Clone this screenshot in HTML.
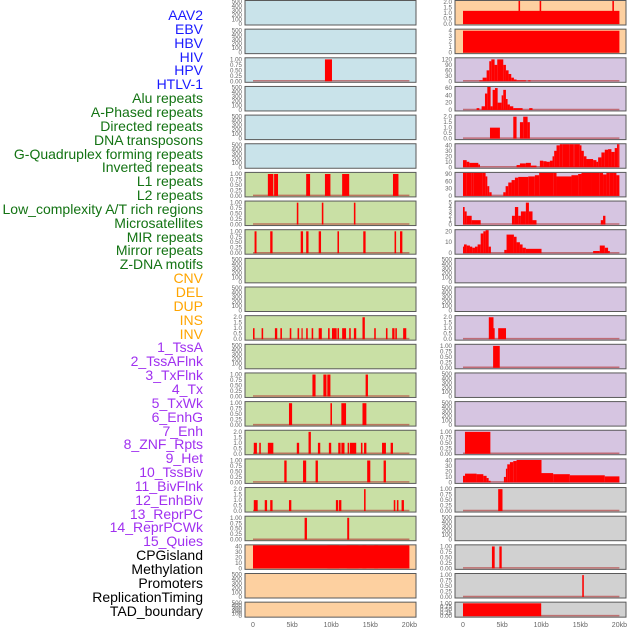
<!DOCTYPE html>
<html><head><meta charset="utf-8">
<style>
html,body{margin:0;padding:0;background:#fff;width:630px;height:630px;overflow:hidden}
#labels{position:absolute;left:0;top:0;width:203px}
.lab{position:absolute;right:0;font-family:"Liberation Sans",sans-serif;font-size:14px;line-height:14px;white-space:nowrap}
svg{position:absolute;left:0;top:0}
</style></head>
<body>
<div id="labels"></div>
<svg id="chart" width="630" height="630"></svg>
<script>
const trackLabels = ["AAV2","EBV","HBV","HIV","HPV","HTLV-1","Alu repeats","A-Phased repeats","Directed repeats","DNA transposons","G-Quadruplex forming repeats","Inverted repeats","L1 repeats","L2 repeats","Low_complexity A/T rich regions","Microsatellites","MIR repeats","Mirror repeats","Z-DNA motifs","CNV","DEL","DUP","INS","INV","1_TssA","2_TssAFlnk","3_TxFlnk","4_Tx","5_TxWk","6_EnhG","7_Enh","8_ZNF_Rpts","9_Het","10_TssBiv","11_BivFlnk","12_EnhBiv","13_ReprPC","14_ReprPCWk","15_Quies","CPGisland","Methylation","Promoters","ReplicationTiming","TAD_boundary"];
const labelGroups = [6,13,5,15,5];
const groupColors = ["#1a1aff","#137313","#ffa500","#a030f0","#000000"];
const xTickLabels = ["0","5kb","10kb","15kb","20kb"];
const xTickValues = [0,5,10,15,20];
const emptyTicks = [0,100,200,300,400,500];
const t1 = [0,0.25,0.5,0.75,1.0];
const t2 = [0,0.5,1.0,1.5,2.0];
// left column bar data [startKb,endKb,value]
const L2 = [[9.2,10.1,1]];
const L6 = [[1.9,2.6,1],[2.7,3.2,1],[6.8,7.3,1],[9.2,9.9,1],[11.4,12.3,1],[17.9,18.6,1]];
const L7 = [[5.6,5.8,1],[8.8,9.0,1],[12.9,13.1,1]];
const L8 = [[0.2,0.45,1],[2.2,2.5,1],[6.1,6.4,1],[6.8,7.1,1],[8.4,8.7,1],[10.8,11.0,1],[14.1,14.4,1],[18.1,18.3,1],[18.8,19.1,1]];
const L11 = [[0,0.2,1],[1.1,1.3,1],[2.8,3.1,1],[3.5,3.7,1],[4.7,4.9,1],[5.7,5.9,1],[6.2,6.35,1],[6.8,7.0,1],[7.5,7.7,1],[8.4,8.8,1],[9.6,9.8,1],[10.1,10.7,1],[10.8,11.0,1],[11.4,11.9,1],[12.3,12.5,1],[12.9,13.2,1],[14.0,14.3,2],[15.5,15.7,1],[17.0,17.2,1],[17.8,18.1,1],[18.2,18.4,1],[19.2,19.6,1]];
const L13 = [[7.6,8.0,1],[9.0,9.4,1],[9.5,9.9,1],[14.4,14.7,1]];
const L14 = [[4.6,5.0,1],[9.9,10.1,1],[11.3,11.9,1],[14.0,14.5,1]];
const L15 = [[0.1,0.5,1],[0.8,1.0,1],[1.9,2.6,1],[5.6,5.9,1],[7.1,7.4,2],[8.3,8.6,1],[9.7,10.0,1],[10.9,11.2,1],[11.3,11.7,1],[12.1,12.3,1],[12.4,13.2,1],[13.8,14.0,1],[14.2,14.5,1],[16.5,17.0,1],[17.6,17.9,1]];
const L16 = [[4.0,4.3,1],[6.4,6.8,1],[8.0,8.3,1],[14.6,15.0,1],[16.7,17.0,1]];
const L17 = [[0.1,0.6,1],[1.5,1.8,1],[2.2,2.5,1],[4.6,4.9,1],[10.6,10.9,1],[11.0,11.3,1],[14.2,14.4,2],[18.0,18.2,1],[18.4,18.6,1],[19.0,19.3,1]];
const L18 = [[6.6,6.9,1],[12.05,12.3,1]];
const L19 = [[0,20,44],[9.5,11.0,47],[12.0,13.5,46],[14.0,14.5,46],[15.5,16.0,46]];
// right column bar data
const R0 = [[0,20,1.2],[7.1,7.3,2.1],[9.8,10.0,2.1],[19.1,19.3,2.1]];
const R1 = [[0,20,4]];
const R2 = [[2.09,2.51,5],[2.51,3.02,20],[3.02,3.36,60],[3.36,3.62,110],[3.62,4.04,120],[4.04,4.38,90],[4.38,5.15,120],[5.15,5.49,90],[5.49,5.83,60],[5.83,6.17,40],[6.17,6.51,20],[6.51,6.85,10],[6.85,8.04,5],[8.34,8.64,5]];
const R3 = [[1.74,2.09,5],[2.38,2.81,10],[2.81,3.11,45],[3.11,3.53,65],[3.53,3.79,10],[3.79,4.09,55],[4.09,4.43,60],[4.43,4.94,20],[4.94,5.15,40],[5.15,5.49,55],[5.49,5.70,30],[5.70,6.0,15],[6.0,6.43,10],[6.43,7.62,5],[8.47,8.89,5]];
const R4 = [[3.45,4.72,1],[6.43,6.85,2],[7.28,7.70,1.5],[7.70,8.26,2],[8.26,8.55,1.5]];
const R5 = [[0,0.47,13],[0.47,0.81,10],[0.81,1.96,8],[1.96,2.17,5],[6.85,7.28,4],[7.28,8.04,7],[8.04,8.68,8],[8.68,9.40,3],[9.83,10.26,12],[10.26,10.68,11],[10.68,11.11,10],[11.11,11.45,12],[11.45,11.66,20],[11.66,11.96,30],[11.96,12.38,40],[12.38,12.68,45],[12.68,13.66,48],[13.66,14.09,47],[14.09,14.30,45],[14.30,14.94,48],[14.94,15.15,40],[15.15,15.45,30],[15.45,15.79,20],[15.79,16.64,15],[16.64,17.06,13],[17.06,17.28,10],[17.28,17.70,18],[17.70,18.13,27],[18.13,18.55,32],[18.55,18.98,33],[18.98,19.40,28],[19.40,19.70,35],[19.70,19.85,45],[19.85,20.0,50]];
const R6 = [[0,0.47,98],[0.47,1.11,100],[1.11,1.32,105],[1.32,2.51,108],[2.51,2.89,95],[2.89,3.11,80],[3.11,3.36,40],[3.36,3.66,15],[5.15,5.45,15],[5.45,5.79,40],[5.79,6.21,55],[6.21,6.64,65],[6.64,7.06,75],[7.06,8.34,78],[8.34,9.19,80],[9.19,9.74,85],[9.74,11.53,108],[11.53,11.96,100],[11.96,13.87,80],[13.87,14.72,85],[14.72,15.15,90],[15.15,16.43,105],[16.43,17.49,110],[17.49,17.91,95],[17.91,18.34,88],[18.34,18.77,95],[18.77,19.19,100],[19.19,19.62,95],[19.62,20,85]];
const R7 = [[0,0.21,4],[0.21,0.47,3],[0.47,1.11,2],[1.11,2.26,1],[6.26,6.64,2],[6.64,7.06,4],[7.06,7.40,2],[7.40,8.04,3],[8.04,8.43,5],[8.43,8.89,3],[8.89,9.40,1],[17.62,17.91,1],[17.91,18.21,2]];
const R8 = [[0,0.13,6],[0.13,0.47,8],[0.47,0.89,7],[0.89,1.19,6],[1.19,1.53,5],[1.53,1.87,6],[1.87,2.26,8],[2.26,2.6,18],[2.6,2.89,20],[2.89,3.28,28],[3.28,3.57,6],[5.28,5.57,3],[5.57,6.51,17],[6.51,6.85,15],[6.85,7.28,10],[7.28,7.62,8],[7.62,8.04,5],[8.04,10.04,4],[16.64,17.49,2],[17.49,18.13,7],[18.13,18.55,5],[18.55,18.77,2]];
const R11 = [[3.3,3.9,2],[3.9,4.05,1],[4.5,5.5,1]];
const R12 = [[3.85,4.7,1]];
const R15 = [[0.25,3.5,1]];
const R16 = [[0,0.26,12],[0.26,1.74,16],[1.74,2.6,15],[2.6,3.02,12],[3.02,3.28,8],[3.28,3.53,3],[5.23,5.49,10],[5.49,5.66,25],[5.66,6.0,33],[6.0,6.43,37],[6.43,6.85,39],[6.85,10.04,41],[10.04,11.53,17],[11.53,13.66,15],[13.66,18.13,13],[18.13,20,11]];
const R17 = [[4.5,5.05,1]];
const R19 = [[3.7,4.05,1],[4.65,4.95,1]];
const R20 = [[15.25,15.45,1]];
const R21 = [[0,10,1]];

const BLUE="#c9e3ea",GREEN="#c9e0a5",ORANGE="#fdd0a0",PURPLE="#d6c5e1",GREY="#d1d1d1";
const leftPanels = [
 [null,emptyTicks,BLUE],[null,emptyTicks,BLUE],[L2,t1,BLUE],[null,emptyTicks,BLUE],[null,emptyTicks,BLUE],[null,emptyTicks,BLUE],
 [L6,t1,GREEN],[L7,t1,GREEN],[L8,t1,GREEN],[null,emptyTicks,GREEN],[null,emptyTicks,GREEN],[L11,t2,GREEN],[null,emptyTicks,GREEN],
 [L13,t1,GREEN],[L14,t1,GREEN],[L15,t2,GREEN],[L16,t1,GREEN],[L17,t2,GREEN],[L18,t1,GREEN],
 [L19,[0,10,20,30,40],ORANGE],[null,emptyTicks,ORANGE],[null,emptyTicks,ORANGE]];
const rightPanels = [
 [R0,t2,ORANGE],[R1,[0,1,2,3,4],ORANGE],[R2,[0,30,60,90,120],PURPLE],[R3,[0,20,40,60],PURPLE],[R4,t2,PURPLE],
 [R5,[0,10,20,30,40],PURPLE],[R6,[0,30,60,90],PURPLE],[R7,[0,1,2,3,4,5],PURPLE],[R8,[0,10,20],PURPLE],
 [null,emptyTicks,PURPLE],[null,emptyTicks,PURPLE],[R11,t2,PURPLE],[R12,t1,PURPLE],[null,emptyTicks,PURPLE],[null,emptyTicks,PURPLE],
 [R15,t1,PURPLE],[R16,[0,10,20,30,40],PURPLE],[R17,t1,GREY],[null,emptyTicks,GREY],[R19,t1,GREY],[R20,t1,GREY],[R21,t1,GREY]];

// labels
const labDiv=document.getElementById('labels');
let gi=0,gc=0;
trackLabels.forEach((t,i)=>{
  const d=document.createElement('div');
  d.className='lab';
  
  
  d.textContent=t;
  d.style.top=(8+i*13.85)+'px';
  d.style.color=groupColors[gi];
  labDiv.appendChild(d);
  gc++; if(gc>=labelGroups[gi]){gi++;gc=0;}
});

const NS="http://www.w3.org/2000/svg";
const svg=document.getElementById('chart');
function el(tag,attrs,parent){const e=document.createElementNS(NS,tag);for(const k in attrs)e.setAttribute(k,attrs[k]);(parent||svg).appendChild(e);return e;}
const PITCH=28.65;
function panelTop(i){return 0.5+i*PITCH;}
function panelH(i){return i===21?15:24.5;}
function drawColumn(panels,px0,x0kb,side){
  const xS=kb=>x0kb+kb*7.82;
  panels.forEach((p,i)=>{
    const [bars,ticks,bg]=p;
    const top=panelTop(i),h=panelH(i);
    const g=el('g',{});
    
    
    const r=el('rect',{x:px0,y:top,width:171,height:h,fill:bg,stroke:'#5a5a5a','stroke-width':1},g);
    
    
    const tmax=ticks[ticks.length-1];
    const ymax=bars?tmax*1.05:tmax*1.03;
    const y0=top+h-1,yTop=top+0.5;
    const yS=v=>y0-(v/ymax)*(y0-yTop);
    ticks.forEach(t=>{
      const tx=el('text',{x:px0-3,y:yS(t)+2,'text-anchor':'end','font-family':'Liberation Sans, sans-serif','font-size':'6.2px',fill:'#666'},g);
      
      
      tx.textContent=(tmax===1?t.toFixed(2):(tmax===2?t.toFixed(1):String(t)));
    });
    if(bars){
      const bl=el('line',{x1:xS(0),x2:xS(20),y1:y0-0.5,y2:y0-0.5,stroke:'#b03030','stroke-width':1.5,'stroke-opacity':0.6},g);
      
      
      bars.forEach(b=>{
        const v=Math.min(b[2],ymax);
        const br=el('rect',{x:xS(b[0]),y:yS(v),width:Math.max(0.9,xS(b[1])-xS(b[0])),height:y0-yS(v),fill:'#ff0000'},g);
        
        
      });
    }
  });
  xTickValues.forEach((v,k)=>{
    const tx=el('text',{x:xS(v),y:627,'text-anchor':'middle','font-family':'Liberation Sans, sans-serif','font-size':'7px',fill:'#666'});
    
    
    tx.textContent=xTickLabels[k];
  });
}
drawColumn(leftPanels,245,253,'left');
drawColumn(rightPanels,455,463,'right');
</script>
</body></html>
